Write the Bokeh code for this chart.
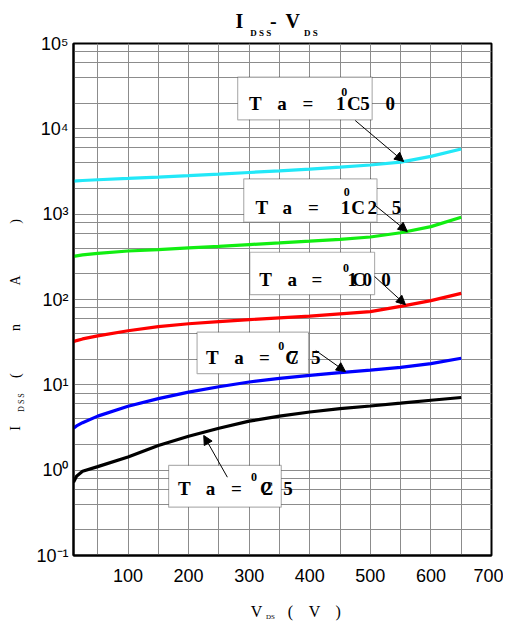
import math
from bokeh.plotting import figure
from bokeh.models import (FixedTicker, BoxAnnotation, Label, Arrow, NormalHead, Range1d,
                          LinearAxis, LogAxis)
from bokeh.embed import file_html
from bokeh.resources import INLINE

# ---------------- data ----------------
vds = [10, 15, 25, 50, 100, 150, 200, 250, 300, 350, 400, 450, 500, 550, 600, 650]
idss_150 = [2430, 2450, 2480, 2530, 2620, 2720, 2830, 2950, 3080, 3220, 3380, 3560, 3770, 4080, 4750, 5800]
idss_125 = [320, 325, 333, 348, 370, 385, 402, 420, 440, 460, 482, 507, 540, 605, 715, 920]
idss_100 = [32, 33, 34.5, 37.5, 43, 48, 52, 55, 58, 61, 64, 68, 72, 83, 97, 118]
idss_75 = [3.1, 3.3, 3.6, 4.3, 5.6, 6.9, 8.2, 9.5, 10.8, 11.9, 12.9, 13.9, 14.9, 16.0, 17.7, 20.5]
idss_25 = [0.72, 0.85, 0.97, 1.1, 1.43, 1.95, 2.5, 3.1, 3.75, 4.3, 4.8, 5.25, 5.65, 6.1, 6.6, 7.1]

x_ticks = [100, 200, 300, 400, 500, 600, 700]
x_minor = [50, 150, 250, 350, 450, 550, 650]
y_ticks = [0.1, 1, 10, 100, 1000, 10000, 100000]
y_tick_labels = ["10\u207b\u00b9", "10\u2070", "10\u00b9", "10\u00b2", "10\u00b3", "10\u2074", "10\u2075"]
y_minor = [m * d for d in [0.1, 1, 10, 100, 1000, 10000] for m in (2, 4, 6, 8)]

series = [
    (idss_150, "#22e8f8"),
    (idss_125, "#11ee11"),
    (idss_100, "#ff0000"),
    (idss_75, "#0000ff"),
    (idss_25, "#000000"),
]

FL, FT, FR, FB = 73, 43, 491, 555   # frame edges on the page
W, H = 503, 624
p = figure(width=W, height=H, output_backend="svg", toolbar_location=None,
           y_axis_type="log", x_range=Range1d(10, 700), y_range=Range1d(0.1, 100000),
           min_border_left=FL, min_border_right=W - FR, min_border_top=FT,
           min_border_bottom=H - FB)
p.background_fill_color = "white"
p.border_fill_color = "white"
p.outline_line_color = "black"
p.outline_line_width = 2

p.xaxis.ticker = FixedTicker(ticks=x_ticks, minor_ticks=x_minor)
p.yaxis.ticker = FixedTicker(ticks=y_ticks, minor_ticks=y_minor)
p.yaxis.major_label_overrides = {t: l for t, l in zip(y_ticks, y_tick_labels)}
for ax in (p.xaxis, p.yaxis):
    ax.major_tick_line_color = None
    ax.minor_tick_line_color = None
    ax.major_tick_out = 0
    ax.minor_tick_out = 0
    ax.axis_line_color = "black"
    ax.axis_line_width = 2
    ax.major_label_text_font = "'Liberation Sans Narrow', 'Arial Narrow', 'Liberation Sans'"
    ax.major_label_text_font_size = "18px"
    ax.major_label_text_color = "black"
p.xaxis.major_label_standoff = 13
p.yaxis.major_label_standoff = 5

for g in (p.xgrid, p.ygrid):
    g.grid_line_color = "#8c8c8c"
    g.grid_line_width = 1
    g.minor_grid_line_color = "#8c8c8c"
    g.minor_grid_line_width = 1

for vals, col in series:
    p.line(vds, vals, line_color=col, line_width=3.2)

SERIF = "Liberation Serif"

# ---------------- callout boxes ----------------
def callout(box, chars, arrow):
    l, r, b, t = box
    p.add_layout(BoxAnnotation(left=l, right=r, bottom=b, top=t, fill_color="white",
                               fill_alpha=1, line_color="black", line_width=1.2))
    for (cx, cy, ch, sz) in chars:
        p.add_layout(Label(x=cx, y=cy, text=ch, text_font=SERIF, text_font_style="bold",
                           text_font_size=sz, text_align="center", text_baseline="middle",
                           text_color="black"))
    (x0, y0), (x1, y1) = arrow
    p.add_layout(Arrow(x_start=x0, y_start=y0, x_end=x1, y_end=y1, line_width=1,
                       line_color="black",
                       end=NormalHead(size=9, fill_color="black", line_color="black")))

B, S = "19px", "12px"
# Ta = 150
callout((281, 503, 12760, 40300),
        [(310, 19800, "T", B), (354, 19800, "a", B), (397, 19800, "=", B),
         (451, 19800, "1", B), (457, 26900, "0", S), (473, 19800, "C", B),
         (491, 19800, "5", B), (533, 19800, "0", B)],
        ((475, 12530), (555, 4140)))
# Ta = 125
callout((291, 511, 805, 2590),
        [(321, 1208, "T", B), (363, 1208, "a", B), (406, 1208, "=", B),
         (459, 1208, "1", B), (461, 1807, "0", S), (480, 1208, "C", B),
         (503, 1208, "2", B), (543, 1208, "5", B)],
        ((508, 1264), (561, 627)))
# Ta = 100
callout((301, 507, 114, 358),
        [(327, 170, "T", B), (371, 170, "a", B), (412, 170, "=", B),
         (460, 231, "0", S), (470, 170, "1", B), (481, 170, "C", B),
         (495, 170, "0", B), (526, 170, "0", B)],
        ((507, 186), (558, 87)))
# Ta = 75
callout((214, 398, 13.5, 41.4),
        [(239, 21.1, "T", B), (283, 21.1, "a", B), (325, 21.1, "=", B),
         (353, 28.9, "0", S), (371, 21.1, "C", B), (373, 21.1, "7", B),
         (410, 21.1, "5", B)],
        ((410, 25.2), (459, 14.3)))
# Ta = 25
callout((167, 353, 0.368, 1.135),
        [(193, 0.605, "T", B), (236, 0.605, "a", B), (279, 0.605, "=", B),
         (308, 0.827, "0", S), (329, 0.605, "C", B), (330, 0.605, "2", B),
         (364, 0.605, "5", B)],
        ((264, 0.827), (225, 2.55)))

# ---------------- titles built from text-only axes ----------------
def text_axis(cls, side, labels, size, standoff, bold=False, orientation="horizontal"):
    ticks = list(labels.keys())
    ax = cls(ticker=FixedTicker(ticks=ticks, minor_ticks=[]),
             major_label_overrides=dict(labels))
    ax.axis_line_color = None
    ax.major_tick_line_color = None
    ax.minor_tick_line_color = None
    ax.major_tick_out = 0
    ax.major_tick_in = 0
    ax.minor_tick_out = 0
    ax.minor_tick_in = 0
    ax.major_label_text_font = SERIF
    ax.major_label_text_font_size = size
    ax.major_label_text_font_style = "bold" if bold else "normal"
    ax.major_label_text_color = "black"
    ax.major_label_standoff = standoff
    ax.major_label_orientation = orientation
    p.add_layout(ax, side)
    return ax

# title: I_DSS - V_DS  (subscript row nearest the frame, main row above it)
text_axis(LinearAxis, "above", {319: "D S S", 402: "D S"}, "9px", 6, bold=True)
text_axis(LinearAxis, "above", {284: "I", 340: "-", 372: "V"}, "20px", -7, bold=True)

# y title: I_DSS ( n A )
text_axis(LogAxis, "left", {6.2: "D S S"}, "8px", 7, orientation="vertical")
text_axis(LogAxis, "left", {3.08: "I", 12.8: "(", 47: "n", 167: "A", 820: ")"},
          "14px", -9, orientation="vertical")

# x title: V_DS ( V )
text_axis(LinearAxis, "below", {312: "V", 368: "(", 408: "V", 447: ")"}, "16px", 18)
text_axis(LinearAxis, "below", {335: "DS"}, "7px", -10)

open("out.html", "w").write(file_html(p, INLINE))
